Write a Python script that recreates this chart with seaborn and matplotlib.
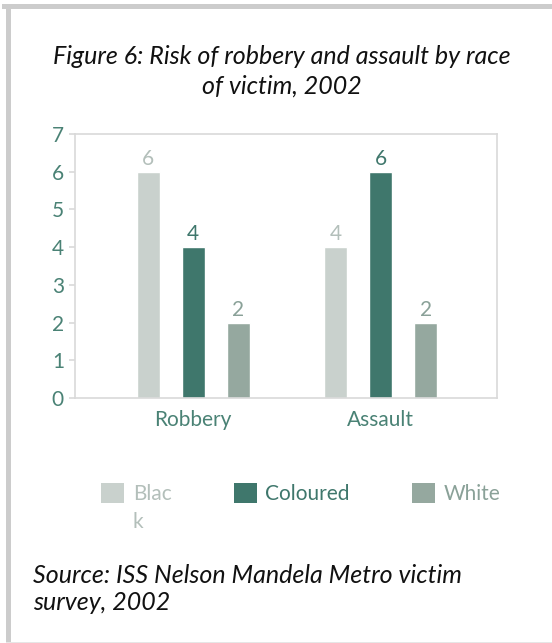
import pandas as pd
import numpy as np
import matplotlib.pyplot as plt
import seaborn as sns
from matplotlib.patches import Rectangle, Patch

# values
crimes = ['Robbery', 'Assault']
races = ['Black', 'Coloured', 'White']
robbery = [6, 4, 2]
assault = [4, 6, 2]
legend_labels = ['Blac', 'Coloured', 'White']   # "Black" wraps in the original

bar_colors = ['#c9d1cd', '#3f776c', '#95a89f']
label_colors = ['#b3bfba', '#3f776c', '#8aa198']
teal = '#4a8275'
grid_grey = '#d9d9d9'

df = pd.DataFrame({
    'crime': np.repeat(crimes, len(races)),
    'race': races * len(crimes),
    'risk': robbery + assault,
})

sns.set_style('white')
plt.rcParams['font.family'] = ['Lato', 'DejaVu Sans']

fig = plt.figure(figsize=(5.52, 6.43), dpi=100)
ax = fig.add_axes([0.1359, 0.381, 0.7645, 0.4106])

sns.barplot(data=df, x='crime', y='risk', hue='race', hue_order=races,
            palette=bar_colors, width=0.72, gap=0.49, saturation=1,
            legend=False, ax=ax)

for cont, col in zip(ax.containers, label_colors):
    ax.bar_label(cont, fmt='%d', padding=2, color=col, fontsize=15)

ax.set_ylim(0, 7)
ax.set_yticks(range(8))
ax.set_xlim(-0.63, 1.62)
ax.set_xlabel('')
ax.set_ylabel('')
for s in ax.spines.values():
    s.set_color(grid_grey)
    s.set_linewidth(1.2)
ax.tick_params(axis='y', left=True, length=4, width=1.2, color=grid_grey,
               labelcolor=teal, labelsize=15, pad=4)
ax.tick_params(axis='x', bottom=False, labelcolor=teal, labelsize=15, pad=5)

fig.text(0.51, 0.889, 'Figure 6: Risk of robbery and assault by race\nof victim, 2002',
         ha='center', va='center', fontsize=18, style='italic',
         color='#111111', linespacing=1.32)

handles = [Patch(facecolor=c, edgecolor='none') for c in bar_colors]
leg = fig.legend(handles, legend_labels, loc='center', ncol=3,
                 bbox_to_anchor=(0.545, 0.2325), frameon=False, fontsize=15,
                 handlelength=1.1, handleheight=1.1, handletextpad=0.4,
                 columnspacing=3.0)
for t, c in zip(leg.get_texts(), label_colors):
    t.set_color(c)

# second line of the wrapped "Black" label
fig.canvas.draw()
bb = leg.get_texts()[0].get_window_extent().transformed(fig.transFigure.inverted())
fig.text(bb.x0, (bb.y0 + bb.y1) / 2 - 28 / 643, 'k', ha='left', va='center',
         fontsize=15, color=label_colors[0])

fig.text(0.06, 0.084, 'Source: ISS Nelson Mandela Metro victim\nsurvey, 2002',
         ha='left', va='center', fontsize=18, style='italic',
         color='#111111', linespacing=1.2)

# grey page frame
fig.patches.append(Rectangle((0.004, 0.986), 0.996, 0.008, transform=fig.transFigure,
                             facecolor='#cccccc', edgecolor='none'))
fig.patches.append(Rectangle((0.011, 0.0), 0.009, 0.994, transform=fig.transFigure,
                             facecolor='#cccccc', edgecolor='none'))
fig.patches.append(Rectangle((0.011, 0.0), 0.989, 0.002, transform=fig.transFigure,
                             facecolor='#e6e6e6', edgecolor='none'))

fig.savefig('out.png', dpi=100)
